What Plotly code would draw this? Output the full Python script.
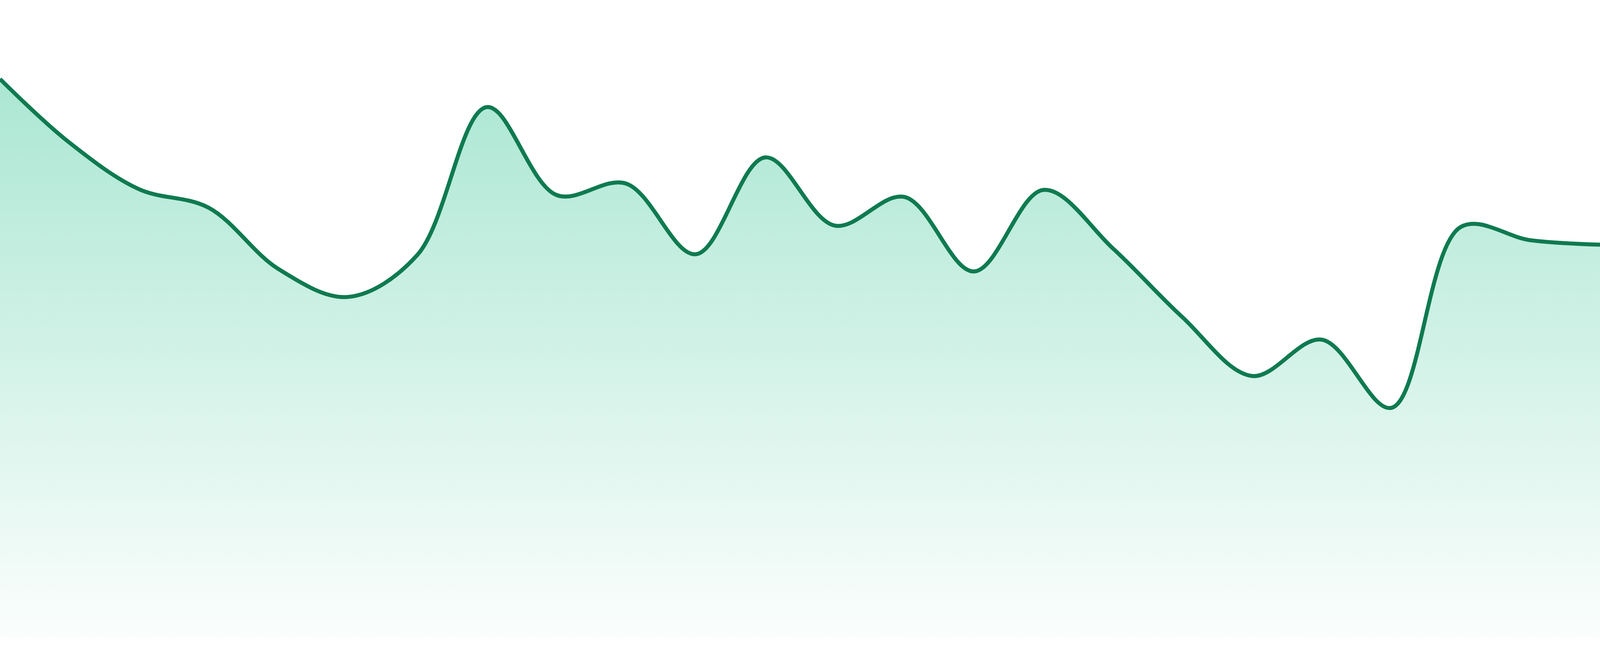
# -*- coding: utf-8 -*-
"""
    Gráfico de área suavizada (sparkline) com preenchimento em degradê
"""
import plotly.graph_objects as go

# Dados da série (24 pontos igualmente espaçados)
pontos = list(range(24))
valores = [
    87.6, 77.6, 70.3, 67.4, 57.8, 53.4, 60.0, 83.2,
    69.4, 71.2, 60.1, 75.3, 64.6, 69.1, 57.4, 70.2,
    61.0, 50.2, 41.0, 46.7, 36.0, 64.4, 62.3, 61.6,
]

COR_LINHA = '#0f7a50'
COR_BASE = '16, 185, 129'  # verde esmeralda
Y_MAX = 100
Y_MIN = -Y_MAX * 48 / 1632  # faixa branca sob a área


fig = go.Figure()

fig.add_trace(go.Scatter(
    x=pontos,
    y=valores,
    mode='lines',
    line=dict(color=COR_LINHA, width=12, shape='spline', smoothing=1),
    fill='tozeroy',
    fillgradient=dict(
        type='vertical',
        start=0,
        stop=Y_MAX,
        colorscale=[
            [0.0, f'rgba({COR_BASE}, 0.02)'],
            [1.0, f'rgba({COR_BASE}, 0.40)'],
        ],
    ),
    hoverinfo='skip',
    showlegend=False,
))

fig.update_layout(
    autosize=True,
    margin=dict(l=0, r=0, t=0, b=0, pad=0),
    plot_bgcolor='white',
    paper_bgcolor='white',
    showlegend=False,
)

fig.update_xaxes(visible=False, range=[0, len(pontos) - 1], showgrid=False, zeroline=False)
fig.update_yaxes(visible=False, range=[Y_MIN, Y_MAX], showgrid=False, zeroline=False)

# Ocupa a janela inteira, sem margem da página
ajuste_tela = (
    "document.documentElement.style.margin='0';"
    "document.body.style.margin='0';"
    "document.body.style.overflow='hidden';"
    "var gd=document.getElementById('{plot_id}');"
    "var s=window.innerWidth/4800;"
    "Plotly.restyle(gd,{'line.width':12*s});"
    "Plotly.relayout(gd,{width:window.innerWidth,height:window.innerHeight});"
)

fig.write_html('out.html', config={'displayModeBar': False}, post_script=ajuste_tela)
